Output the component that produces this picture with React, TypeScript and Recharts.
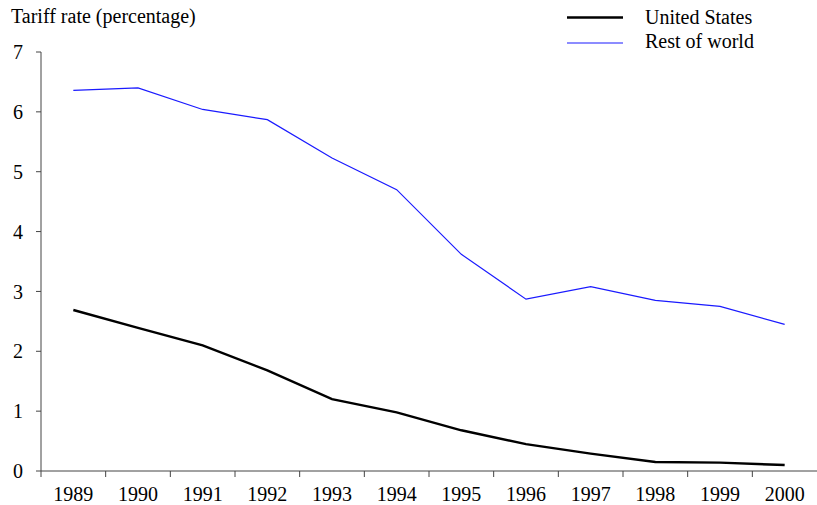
import React from "react";
import { LineChart, Line, XAxis, YAxis } from "recharts";

const years = [1989, 1990, 1991, 1992, 1993, 1994, 1995, 1996, 1997, 1998, 1999, 2000];
const unitedStates = [2.69, 2.39, 2.1, 1.68, 1.2, 0.98, 0.68, 0.45, 0.29, 0.15, 0.14, 0.1];
const restOfWorld = [6.36, 6.4, 6.04, 5.87, 5.23, 4.7, 3.62, 2.87, 3.08, 2.85, 2.75, 2.45];
const yTicks = [0, 1, 2, 3, 4, 5, 6, 7];
const seriesNames = ["United States", "Rest of world"];
const seriesColors = ["#000000", "#1a1aff"];
const seriesWidths = [2.4, 1.2];
const yAxisTitle = "Tariff rate (percentage)";

const data = years.map((year, i) => ({ year, us: unitedStates[i], row: restOfWorld[i] }));
const boundaryTicks = years.map((y) => y - 0.5);

const FONT = "'Liberation Serif', 'Times New Roman', serif";
const FS = 20;
const AXIS = "#444444";

const W = 817;
const H = 505;

function XTick(props: any) {
  const { x, y, payload, width } = props;
  const w = typeof width === "number" && width > 0 ? width : 776;
  const half = w / years.length / 2;
  return (
    <text x={x + half} y={y} dy="0.71em" textAnchor="middle" fill="#000" fontFamily={FONT} fontSize={FS}>
      {payload.value + 0.5}
    </text>
  );
}

export default function App() {
  return (
    <div style={{ position: "absolute", left: 0, top: 0, width: W, height: H, background: "#fff" }}>
      <LineChart width={W} height={H} data={data} margin={{ top: 52, right: 0, bottom: 0, left: 0 }}>
        <XAxis
          dataKey="year"
          type="number"
          domain={[1988.5, 2000.5]}
          ticks={boundaryTicks}
          tick={<XTick />}
          tickSize={6}
          tickMargin={10}
          height={34}
          stroke={AXIS}
          allowDataOverflow
          interval={0}
        />
        <YAxis
          domain={[0, 7]}
          ticks={yTicks}
          width={41}
          tickSize={5}
          tickMargin={13}
          stroke={AXIS}
          tick={{ fill: "#000", fontFamily: FONT, fontSize: FS }}
          interval={0}
        />
        <Line dataKey="row" name={seriesNames[1]} stroke={seriesColors[1]} strokeWidth={seriesWidths[1]} dot={false} isAnimationActive={false} type="linear" />
        <Line dataKey="us" name={seriesNames[0]} stroke={seriesColors[0]} strokeWidth={seriesWidths[0]} dot={false} isAnimationActive={false} type="linear" />
      </LineChart>
      <svg width={W} height={60} style={{ position: "absolute", left: 0, top: 0, pointerEvents: "none" }}>
        <text x={11} y={23} fontFamily={FONT} fontSize={FS} fill="#000">
          {yAxisTitle}
        </text>
        {seriesNames.map((name, i) => (
          <g key={name}>
            <line x1={567} x2={623} y1={17.5 + i * 25.5} y2={17.5 + i * 25.5} stroke={seriesColors[i]} strokeWidth={seriesWidths[i]} />
            <text x={645} y={24 + i * 24} fontFamily={FONT} fontSize={FS} fill="#000">
              {name}
            </text>
          </g>
        ))}
      </svg>
    </div>
  );
}
